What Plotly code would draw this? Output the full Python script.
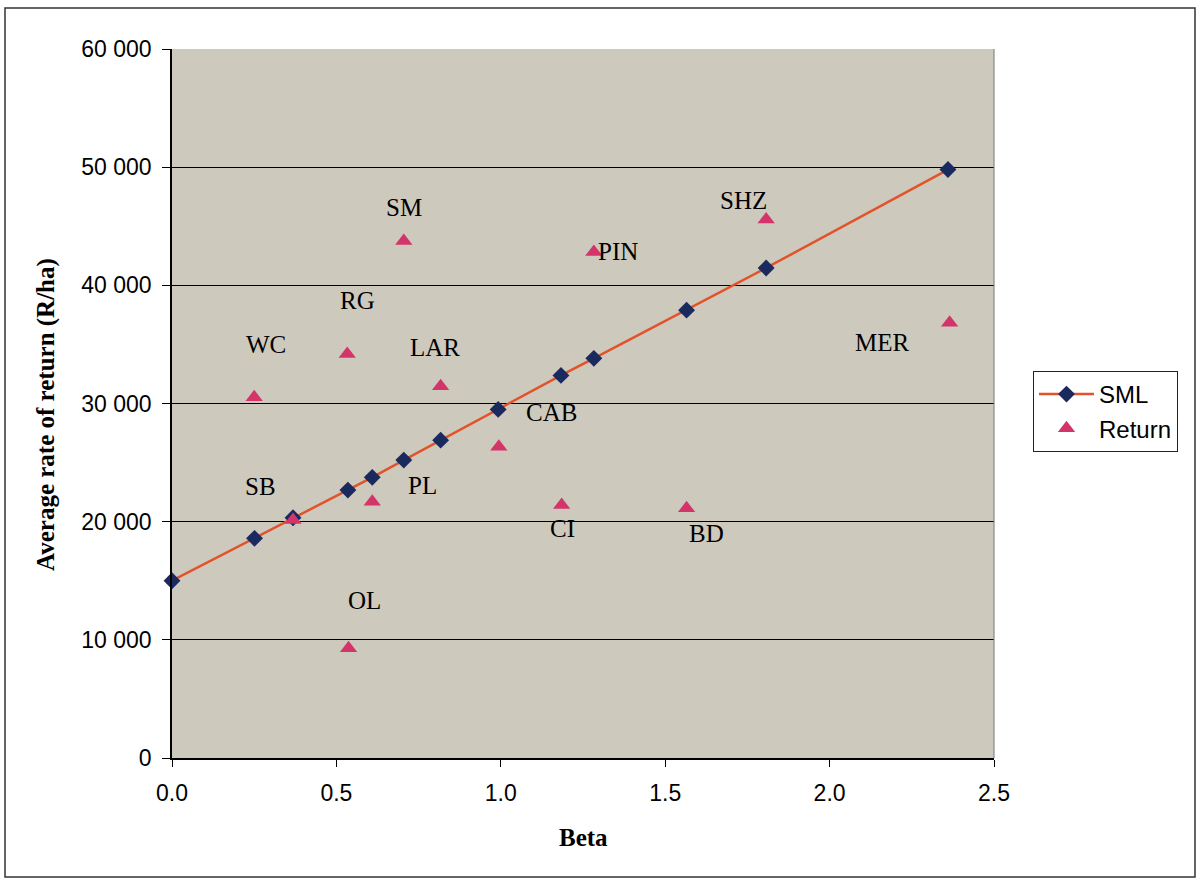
import plotly.graph_objects as go

# ---- data ----
sml_beta = [0.0, 0.251, 0.368, 0.535, 0.609, 0.705, 0.817, 0.992, 1.183, 1.283, 1.565, 1.807, 2.360]
sml_ret = [15000, 18590, 20330, 22670, 23750, 25210, 26900, 29500, 32380, 33820, 37900, 41470, 49800]

ret_names = ["WC", "RG", "SM", "LAR", "PL", "SB", "PIN", "SHZ", "CAB", "CI", "BD", "MER", "OL"]
ret_beta = [0.250, 0.533, 0.705, 0.817, 0.609, 0.368, 1.283, 1.807, 0.994, 1.185, 1.565, 2.365, 0.537]
ret_val = [30520, 34180, 43760, 31470, 21680, 20140, 42830, 45570, 26340, 21400, 21130, 36830, 9280]
# label offsets (pixels) relative to each point
lab_dx = [12, 10, 0, -6, 50, -33, 24, -23, 53, 1, 20, -67, 16]
lab_dy = [53, 54, 33, 39, 16, 34, 0, 19, 34, -23, -25, -20, 48]

x_ticks = [0.0, 0.5, 1.0, 1.5, 2.0, 2.5]
x_ticktext = ["0.0", "0.5", "1.0", "1.5", "2.0", "2.5"]
y_ticks = [0, 10000, 20000, 30000, 40000, 50000, 60000]
y_ticktext = ["0", "10 000", "20 000", "30 000", "40 000", "50 000", "60 000"]

W, H = 1198, 880
ML, MR, MT, MB = 172, 204, 49, 122
PW, PH = W - ML - MR, H - MT - MB


def px(xp):
    return (xp - ML) / PW


def py(yp):
    return (H - MB - yp) / PH


fig = go.Figure()
fig.add_trace(go.Scatter(
    x=sml_beta, y=sml_ret, mode="lines+markers", name="SML",
    line=dict(color="#E2532B", width=2.5),
    marker=dict(symbol="diamond", size=13, color="#1B2A5E"),
    cliponaxis=False,
))
fig.add_trace(go.Scatter(
    x=ret_beta, y=ret_val, mode="markers", name="Return",
    marker=dict(symbol="triangle-up", size=15, color="#D3356A"),
    cliponaxis=False,
))

annotations = []
for n, bx, rv, dx, dy in zip(ret_names, ret_beta, ret_val, lab_dx, lab_dy):
    annotations.append(dict(
        x=bx, y=rv, xref="x", yref="y", text=n, showarrow=False,
        xshift=dx, yshift=dy,
        font=dict(family="Liberation Serif", size=25, color="black"),
    ))
annotations.append(dict(
    x=0.5, y=py(837), xref="paper", yref="paper", text="<b>Beta</b>",
    showarrow=False, xanchor="center", yanchor="middle",
    font=dict(family="Liberation Serif", size=25, color="black"),
))
annotations.append(dict(
    x=px(46), y=py(415), xref="paper", yref="paper",
    text="<b>Average rate of return (R/ha)</b>", textangle=-90,
    showarrow=False, xanchor="center", yanchor="middle",
    font=dict(family="Liberation Serif", size=25, color="black"),
))

shapes = [
    # outer frame
    dict(type="rect", xref="paper", yref="paper",
         x0=px(5), x1=px(1195), y0=py(877), y1=py(8),
         line=dict(color="#333333", width=1.5), fillcolor="rgba(0,0,0,0)", layer="below"),
    # plot-area border (right side)
    dict(type="line", xref="paper", yref="paper", x0=1, x1=1, y0=0, y1=1,
         line=dict(color="#777777", width=1)),
]

fig.update_layout(
    width=W, height=H,
    margin=dict(l=ML, r=MR, t=MT, b=MB, pad=0),
    paper_bgcolor="white",
    plot_bgcolor="#CDC9BC",
    showlegend=True,
    legend=dict(
        x=px(1033), y=py(371), xanchor="left", yanchor="top",
        bordercolor="#222222", borderwidth=1, bgcolor="white",
        font=dict(family="Liberation Sans", size=24, color="black"),
        itemwidth=55, tracegroupgap=4,
    ),
    annotations=annotations,
    shapes=shapes,
    xaxis=dict(
        range=[0, 2.5], tickvals=x_ticks, ticktext=x_ticktext,
        showgrid=False, zeroline=False,
        showline=True, linecolor="black", linewidth=1.5,
        ticks="outside", ticklen=7, tickcolor="black", tickwidth=1,
        ticklabelstandoff=7,
        tickfont=dict(family="Liberation Sans", size=23, color="black"),
    ),
    yaxis=dict(
        range=[0, 60000], tickvals=y_ticks, ticktext=y_ticktext,
        showgrid=True, gridcolor="black", gridwidth=1, zeroline=False,
        showline=True, linecolor="black", linewidth=1.5,
        ticks="outside", ticklen=8, tickcolor="black", tickwidth=1,
        ticklabelstandoff=6,
        tickfont=dict(family="Liberation Sans", size=23, color="black"),
    ),
)

fig.write_html("out.html")
